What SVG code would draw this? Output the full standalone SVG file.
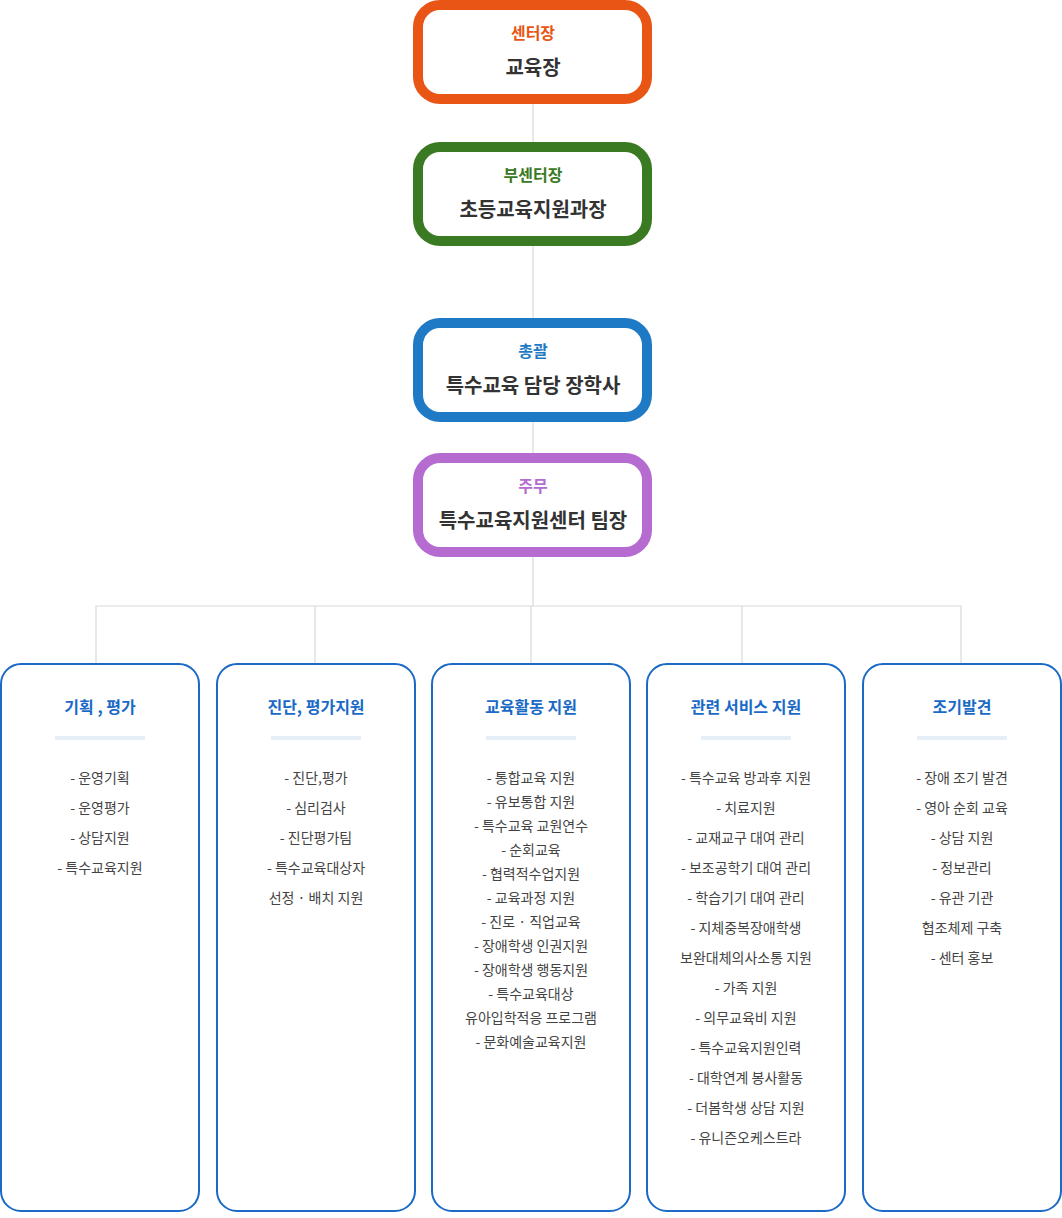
<svg xmlns="http://www.w3.org/2000/svg" width="1062" height="1218" viewBox="0 0 1062 1218">
<style>
text{font-family:"Noto Sans CJK KR","Noto Sans",sans-serif;text-anchor:middle}
.top{fill:#fff;stroke-width:10}
.sub{font-size:16px;font-weight:bold}
.main{font-size:20px;font-weight:bold;fill:#333}
.col{fill:#fff;stroke:#1a6ac6;stroke-width:2}
.ct{font-size:16px;font-weight:bold;fill:#1a6ac6}
.bar{fill:#e6eef8}
.it{font-size:14px;fill:#444}
.ln{stroke:#d9d9d9;stroke-width:1.2;fill:none}
</style>
<g id="connectors">
<path class="ln" d="M533 104V142M533 246V318M533 422V453M533 557V606M96 663V606H961V663M315 606V663M531 606V663M742 606V663"/>
</g>
<g id="n1"><rect class="top" x="418" y="5" width="229" height="94" rx="22" stroke="#e95514"/><text class="sub" x="533" y="39" fill="#e95514">센터장</text><text class="main" x="533" y="75">교육장</text></g>
<g id="n2"><rect class="top" x="418" y="147" width="229" height="94" rx="22" stroke="#3a7a22"/><text class="sub" x="533" y="181" fill="#3a7a22">부센터장</text><text class="main" x="533" y="217">초등교육지원과장</text></g>
<g id="n3"><rect class="top" x="418" y="323" width="229" height="94" rx="22" stroke="#1f7ac6"/><text class="sub" x="533" y="357" fill="#1f7ac6">총괄</text><text class="main" x="533" y="393">특수교육 담당 장학사</text></g>
<g id="n4"><rect class="top" x="418" y="458" width="229" height="94" rx="22" stroke="#b56bd0"/><text class="sub" x="533" y="492" fill="#b56bd0">주무</text><text class="main" x="533" y="528">특수교육지원센터 팀장</text></g>
<g id="c1"><rect class="col" x="1" y="664" width="198" height="547" rx="20"/><text class="ct" x="100" y="713">기획 , 평가</text><rect class="bar" x="55" y="736" width="90" height="4"/>
<text class="it" x="100" y="783">- 운영기획</text><text class="it" x="100" y="813">- 운영평가</text><text class="it" x="100" y="843">- 상담지원</text><text class="it" x="100" y="873">- 특수교육지원</text></g>
<g id="c2"><rect class="col" x="217" y="664" width="198" height="547" rx="20"/><text class="ct" x="316" y="713">진단, 평가지원</text><rect class="bar" x="271" y="736" width="90" height="4"/>
<text class="it" x="316" y="783">- 진단,평가</text><text class="it" x="316" y="813">- 심리검사</text><text class="it" x="316" y="843">- 진단평가팀</text><text class="it" x="316" y="873">- 특수교육대상자</text><text class="it" x="316" y="903">선정 · 배치 지원</text></g>
<g id="c3"><rect class="col" x="432" y="664" width="198" height="547" rx="20"/><text class="ct" x="531" y="713">교육활동 지원</text><rect class="bar" x="486" y="736" width="90" height="4"/>
<text class="it" x="531" y="783">- 통합교육 지원</text><text class="it" x="531" y="807">- 유보통합 지원</text><text class="it" x="531" y="831">- 특수교육 교원연수</text><text class="it" x="531" y="855">- 순회교육</text><text class="it" x="531" y="879">- 협력적수업지원</text><text class="it" x="531" y="903">- 교육과정 지원</text><text class="it" x="531" y="927">- 진로 · 직업교육</text><text class="it" x="531" y="951">- 장애학생 인권지원</text><text class="it" x="531" y="975">- 장애학생 행동지원</text><text class="it" x="531" y="999">- 특수교육대상</text><text class="it" x="531" y="1023">유아입학적응 프로그램</text><text class="it" x="531" y="1047">- 문화예술교육지원</text></g>
<g id="c4"><rect class="col" x="647" y="664" width="198" height="547" rx="20"/><text class="ct" x="746" y="713">관련 서비스 지원</text><rect class="bar" x="701" y="736" width="90" height="4"/>
<text class="it" x="746" y="783">- 특수교육 방과후 지원</text><text class="it" x="746" y="813">- 치료지원</text><text class="it" x="746" y="843">- 교재교구 대여 관리</text><text class="it" x="746" y="873">- 보조공학기 대여 관리</text><text class="it" x="746" y="903">- 학습기기 대여 관리</text><text class="it" x="746" y="933">- 지체중복장애학생</text><text class="it" x="746" y="963">보완대체의사소통 지원</text><text class="it" x="746" y="993">- 가족 지원</text><text class="it" x="746" y="1023">- 의무교육비 지원</text><text class="it" x="746" y="1053">- 특수교육지원인력</text><text class="it" x="746" y="1083">- 대학연계 봉사활동</text><text class="it" x="746" y="1113">- 더봄학생 상담 지원</text><text class="it" x="746" y="1143">- 유니즌오케스트라</text></g>
<g id="c5"><rect class="col" x="863" y="664" width="198" height="547" rx="20"/><text class="ct" x="962" y="713">조기발견</text><rect class="bar" x="917" y="736" width="90" height="4"/>
<text class="it" x="962" y="783">- 장애 조기 발견</text><text class="it" x="962" y="813">- 영아 순회 교육</text><text class="it" x="962" y="843">- 상담 지원</text><text class="it" x="962" y="873">- 정보관리</text><text class="it" x="962" y="903">- 유관 기관</text><text class="it" x="962" y="933">협조체제 구축</text><text class="it" x="962" y="963">- 센터 홍보</text></g>
</svg>
